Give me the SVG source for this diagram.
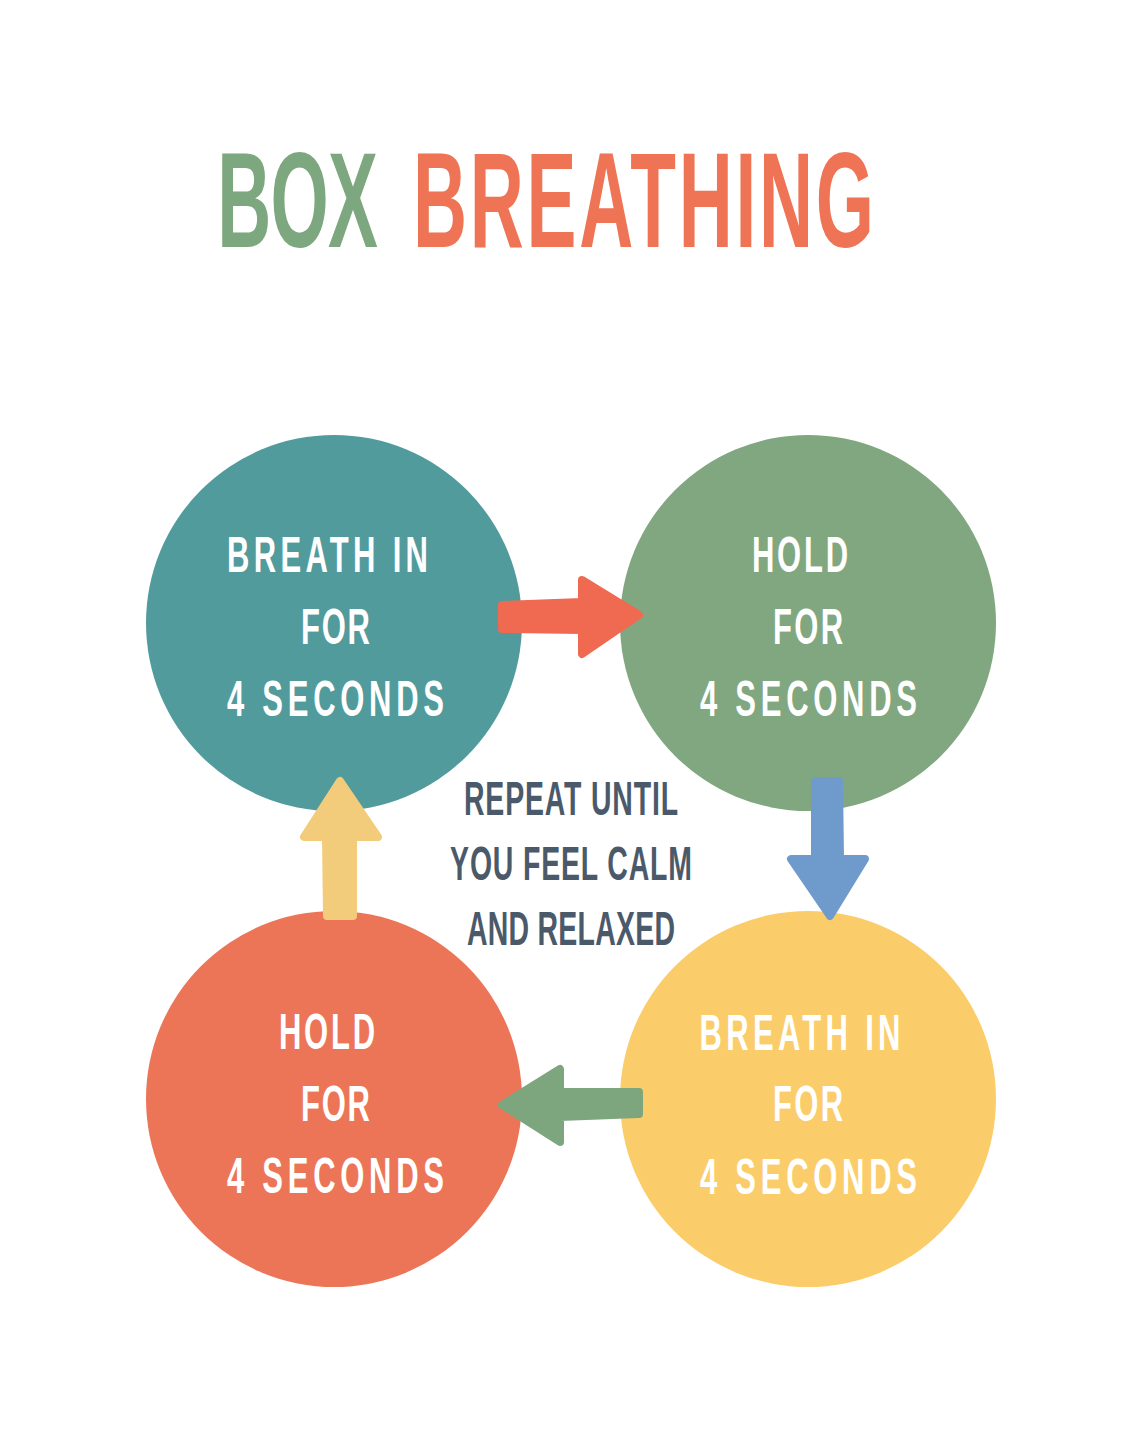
<svg xmlns="http://www.w3.org/2000/svg" width="1143" height="1429" viewBox="0 0 1143 1429">
<style>
.t{font-family:"Liberation Sans",Arial,sans-serif;font-weight:700;text-anchor:middle}
.w{fill:#ffffff;font-size:50px}
.d{fill:#4B5A6A;font-size:49px}
.arr{stroke-linejoin:round;stroke-width:8}
</style>
<rect width="1143" height="1429" fill="#ffffff"/>
<g id="title">
<text class="t" font-size="136" fill="#7DA77E" transform="translate(297.5,247) scale(0.55,1)" textLength="292" lengthAdjust="spacing">BOX</text>
<text class="t" font-size="136" fill="#EE7455" transform="translate(643.5,247) scale(0.55,1)" textLength="838" lengthAdjust="spacing">BREATHING</text>
</g>
<g id="node-breath-in-1">
<circle cx="334" cy="623" r="188" fill="#519B9D"/>
<text class="t w" transform="translate(327.5,572) scale(0.62,1)" textLength="324" lengthAdjust="spacing">BREATH IN</text>
<text class="t w" transform="translate(335.5,644) scale(0.62,1)" textLength="111" lengthAdjust="spacing">FOR</text>
<text class="t w" transform="translate(335.5,716) scale(0.62,1)" textLength="350" lengthAdjust="spacing">4 SECONDS</text>
</g>
<g id="node-hold-1">
<circle cx="808" cy="623" r="188" fill="#80A77F"/>
<text class="t w" transform="translate(800,572) scale(0.62,1)" textLength="155" lengthAdjust="spacing">HOLD</text>
<text class="t w" transform="translate(808,644) scale(0.62,1)" textLength="113" lengthAdjust="spacing">FOR</text>
<text class="t w" transform="translate(808.5,716) scale(0.62,1)" textLength="350" lengthAdjust="spacing">4 SECONDS</text>
</g>
<g id="node-hold-2">
<circle cx="334" cy="1099" r="188" fill="#EC7558"/>
<text class="t w" transform="translate(327,1049) scale(0.62,1)" textLength="155" lengthAdjust="spacing">HOLD</text>
<text class="t w" transform="translate(335.5,1121) scale(0.62,1)" textLength="111" lengthAdjust="spacing">FOR</text>
<text class="t w" transform="translate(335.5,1193) scale(0.62,1)" textLength="350" lengthAdjust="spacing">4 SECONDS</text>
</g>
<g id="node-breath-in-2">
<circle cx="808" cy="1099" r="188" fill="#FBCD6A"/>
<text class="t w" transform="translate(800,1050) scale(0.62,1)" textLength="324" lengthAdjust="spacing">BREATH IN</text>
<text class="t w" transform="translate(808,1121) scale(0.62,1)" textLength="113" lengthAdjust="spacing">FOR</text>
<text class="t w" transform="translate(808.5,1194) scale(0.62,1)" textLength="350" lengthAdjust="spacing">4 SECONDS</text>
</g>
<g id="center-note">
<text class="t d" transform="translate(571,815) scale(0.58,1)" textLength="369" lengthAdjust="spacing">REPEAT UNTIL</text>
<text class="t d" transform="translate(571,880) scale(0.58,1)" textLength="417" lengthAdjust="spacing">YOU FEEL CALM</text>
<text class="t d" transform="translate(571,945) scale(0.58,1)" textLength="359" lengthAdjust="spacing">AND RELAXED</text>
</g>
<g id="connectors">
<path class="arr" fill="#EF6A50" stroke="#EF6A50" d="M502,605 L582,602 L582,580 L639,615 L582,654 L582,630 L502,629 Z"/>
<path class="arr" fill="#6E9BCB" stroke="#6E9BCB" d="M815,781 L839,781 L840,859 L865,859 L830,916 L791,859 L815,859 Z"/>
<path class="arr" fill="#7EA67E" stroke="#7EA67E" d="M639,1092 L639,1114 L560,1117 L560,1142 L502,1105 L560,1069 L560,1092 Z"/>
<path class="arr" fill="#F2CC7A" stroke="#F2CC7A" d="M327,916 L353,916 L353,837 L378,837 L340,781 L304,837 L326,837 Z"/>
</g>
</svg>
